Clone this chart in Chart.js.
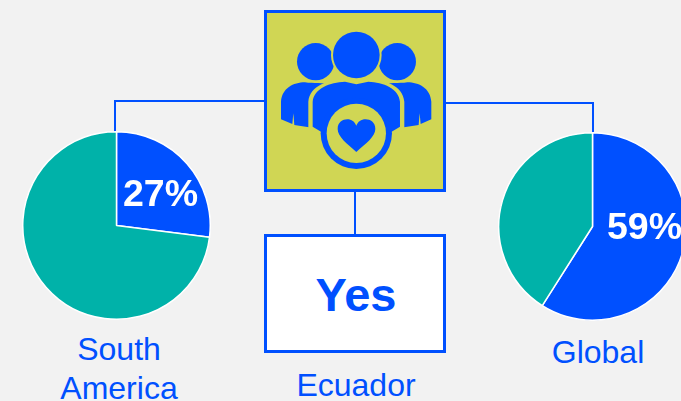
<!DOCTYPE html>
<html>
<head>
<meta charset="utf-8">
<style>
  html, body { margin: 0; padding: 0; }
  body { width: 681px; height: 401px; background: #f2f2f2; overflow: hidden; position: relative; font-family: "Liberation Sans", Arial, sans-serif; }
  canvas { position: absolute; }
  .line { position: absolute; background: #0050ff; }
  .box { position: absolute; box-sizing: border-box; border: 3px solid #0050ff; }
  .label { position: absolute; color: #0050ff; font-size: 32px; line-height: 39px; text-align: center; }
  svg { position: absolute; left: 0; top: 0; }
</style>
</head>
<body>
<div class="line" style="left:114px;top:100px;width:151px;height:2px"></div>
<div class="line" style="left:114px;top:100px;width:2px;height:32px"></div>
<div class="line" style="left:445px;top:102px;width:149px;height:2px"></div>
<div class="line" style="left:592px;top:102px;width:2px;height:30px"></div>
<div class="line" style="left:354px;top:190px;width:2px;height:46px"></div>

<div class="box" style="left:264px;top:10px;width:182px;height:182px;background:#d0d654"></div>
<svg width="681" height="401">
  <g transform="translate(260 5) scale(0.3333)" fill="#0050ff">
    <circle cx="167" cy="170" r="56"/>
    <circle cx="412" cy="170" r="56"/>
    <path d="M63 343 L63 290 C66 250 100 232 135 232 C160 236 190 232 215 240 L170 370 L142 366 L103 360 L100 325 L97 357 Z"/>
    <path d="M514 343 L514 290 C511 250 477 232 442 232 C417 236 387 232 362 240 L407 370 L437 366 L476 360 L479 325 L482 357 Z"/>
    <circle cx="289" cy="150" r="76" fill="#d0d654"/>
    <circle cx="289" cy="150" r="70"/>
    <path d="M145 372 L145 290 C150 240 205 224 255 224 L289 232 L325 224 C375 224 428 240 433 290 L433 372 L390 400 L190 400 Z" fill="#d0d654"/>
    <path d="M158 365 L158 290 C162 250 210 232 255 230 L289 238 L325 230 C370 232 416 250 420 290 L420 365 L395 380 L183 380 Z"/>
    <circle cx="289" cy="385" r="107"/>
    <circle cx="289" cy="385" r="89" fill="#d0d654"/>
    <path d="M289 441 C260 415 233 395 233 372 C233 352 248 343 262 343 C275 343 284 350 289 362 C294 350 303 343 317 343 C331 343 346 352 346 372 C346 395 318 415 289 441 Z"/>
  </g>
</svg>

<div class="box" style="left:264px;top:234px;width:182px;height:119px;background:#fff"></div>
<div style="position:absolute;left:265px;top:235px;width:182px;height:119px;line-height:119px;text-align:center;color:#0050ff;font-weight:bold;font-size:47px">Yes</div>

<canvas id="pieSouthAmerica" width="189" height="189" style="left:22px;top:131px"></canvas>
<canvas id="pieGlobal" width="189" height="189" style="left:498px;top:132px"></canvas>

<div class="label" style="left:39px;top:330px;width:160px">South<br>America</div>
<div class="label" style="left:276px;top:366px;width:160px">Ecuador</div>
<div class="label" style="left:518px;top:333px;width:160px">Global</div>

<script src="https://cdn.jsdelivr.net/npm/chart.js@4/dist/chart.umd.min.js"></script>
<script>
const categories = ['Yes', 'No'];
const southAmericaValues = [27, 73];
const globalValues = [59, 41];
const sliceColors = ['#0050ff', '#00b2a9'];

// escreve o percentual dentro da fatia azul
const percentLabel = {
  id: 'percentLabel',
  afterDatasetsDraw(chart, args, opts) {
    const ctx = chart.ctx;
    ctx.save();
    ctx.fillStyle = '#fff';
    ctx.font = 'bold 37.5px "Liberation Sans", Arial, sans-serif';
    ctx.textAlign = 'left';
    ctx.textBaseline = 'middle';
    ctx.fillText(chart.data.datasets[0].data[0] + '%', opts.x, opts.y);
    ctx.restore();
  }
};

function carregarPizza(id, values, labelX, labelY) {
  new Chart(document.getElementById(id).getContext('2d'), {
    type: 'pie',
    data: {
      labels: categories,
      datasets: [{
        data: values,
        backgroundColor: sliceColors,
        borderColor: '#fff',
        borderWidth: 1.5
      }]
    },
    options: {
      responsive: false,
      animation: false,
      plugins: {
        legend: { display: false },
        tooltip: { enabled: false },
        percentLabel: { x: labelX, y: labelY }
      }
    },
    plugins: [percentLabel]
  });
}

carregarPizza('pieSouthAmerica', southAmericaValues, 101, 65);
carregarPizza('pieGlobal', globalValues, 109, 97);
</script>
</body>
</html>
